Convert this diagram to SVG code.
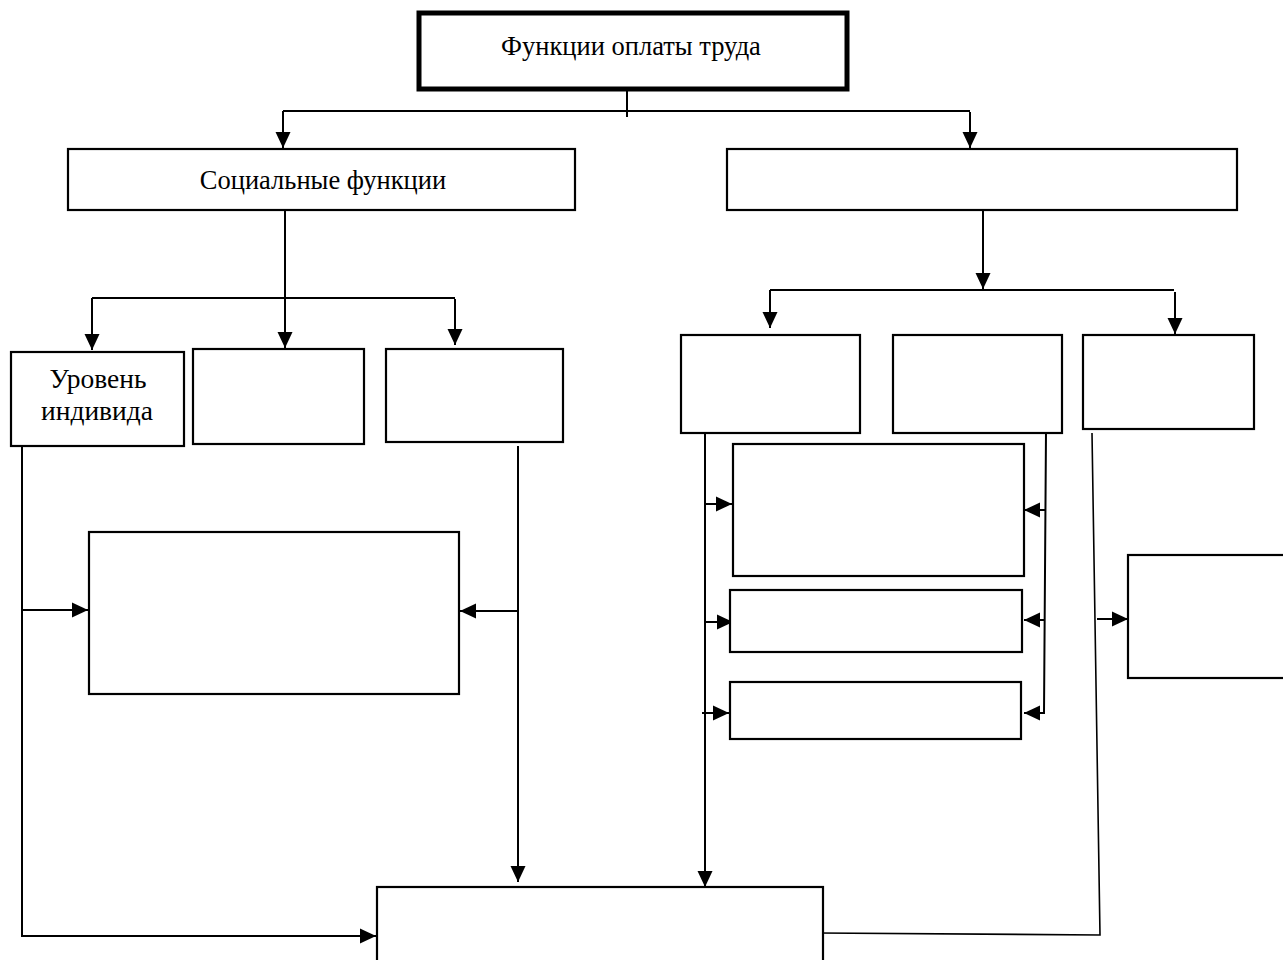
<svg xmlns="http://www.w3.org/2000/svg" width="1283" height="960" viewBox="0 0 1283 960">
<style>
.b{fill:#fff;stroke:#000;stroke-width:2.2}
.c{fill:none;stroke:#000;stroke-width:2}
.t{font-family:"Liberation Serif","Times New Roman",serif;font-size:26.5px;fill:#000;text-anchor:middle}
.s{font-size:27.5px}
</style>
<defs>
<marker id="A" markerWidth="16" markerHeight="16" refX="16" refY="8" orient="auto" markerUnits="userSpaceOnUse" viewBox="0 0 16 16">
<path d="M0,0.5 L16,8 L0,15.5 Z" fill="#000"/>
</marker>
</defs>
<rect width="1283" height="960" fill="#fff"/>
<g id="connectors">
<path class="c" d="M627,89 V117"/>
<path class="c" d="M283,111 H970"/>
<path class="c" d="M283,111 V148" marker-end="url(#A)"/>
<path class="c" d="M970,112 V148" marker-end="url(#A)"/>
<path class="c" d="M285,210 V348" marker-end="url(#A)"/>
<path class="c" d="M92,298 H455"/>
<path class="c" d="M92,298 V350" marker-end="url(#A)"/>
<path class="c" d="M455,299 V345" marker-end="url(#A)"/>
<path class="c" d="M983,210 V289" marker-end="url(#A)"/>
<path class="c" d="M770,290 H1174"/>
<path class="c" d="M770,290 V328" marker-end="url(#A)"/>
<path class="c" d="M1175,292 V334" marker-end="url(#A)"/>
<path class="c" d="M22,446 V936 H376" marker-end="url(#A)"/>
<path class="c" d="M22,610 H88" marker-end="url(#A)"/>
<path class="c" d="M518,446 V882" marker-end="url(#A)"/>
<path class="c" d="M518,611 H460" marker-end="url(#A)"/>
<path class="c" d="M705,433 V887" marker-end="url(#A)"/>
<path class="c" d="M705,504 H732" marker-end="url(#A)"/>
<path class="c" d="M705,622 H733" marker-end="url(#A)"/>
<path class="c" d="M702,713 H729" marker-end="url(#A)"/>
<path class="c" d="M1046,431 L1044,713 H1024" marker-end="url(#A)"/>
<path class="c" d="M1045,510 H1024" marker-end="url(#A)"/>
<path class="c" d="M1045,620 H1024" marker-end="url(#A)"/>
<path class="c" style="stroke-width:1.6" d="M1092,433 L1100,935 L818,933"/>
<path class="c" d="M1097,619 H1128" marker-end="url(#A)"/>
</g>
<g id="n-top"><rect class="b" x="419" y="13" width="428" height="76" style="stroke-width:5"/><text class="t" x="631" y="55">Функции оплаты труда</text></g>
<g id="n-social"><rect class="b" x="68" y="149" width="507" height="61"/><text class="t" x="323" y="189">Социальные функции</text></g>
<g id="n-right"><rect class="b" x="727" y="149" width="510" height="61"/></g>
<g id="n-ind"><rect class="b" x="11" y="352" width="173" height="94"/><text class="t s" x="98" y="388">Уровень</text><text class="t s" x="97" y="420">индивида</text></g>
<g id="n-s2"><rect class="b" x="193" y="349" width="171" height="95"/></g>
<g id="n-s3"><rect class="b" x="386" y="349" width="177" height="93"/></g>
<g id="n-ra"><rect class="b" x="681" y="335" width="179" height="98"/></g>
<g id="n-rb"><rect class="b" x="893" y="335" width="169" height="98"/></g>
<g id="n-rc"><rect class="b" x="1083" y="335" width="171" height="94"/></g>
<g id="n-mid"><rect class="b" x="89" y="532" width="370" height="162"/></g>
<g id="n-d"><rect class="b" x="733" y="444" width="291" height="132"/></g>
<g id="n-e"><rect class="b" x="730" y="590" width="292" height="62"/></g>
<g id="n-f"><rect class="b" x="730" y="682" width="291" height="57"/></g>
<g id="n-g"><rect class="b" x="1128" y="555" width="162" height="123"/></g>
<g id="n-bottom"><rect class="b" x="377" y="887" width="446" height="80"/></g>
</svg>
